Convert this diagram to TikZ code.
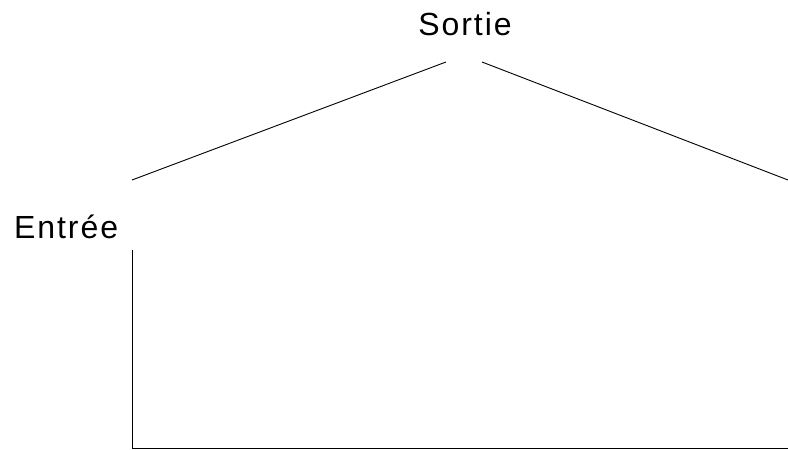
\documentclass[tikz,border=0pt]{standalone}
\usepackage{fontspec}
\setmainfont{Liberation Sans}[LetterSpace=6]
\begin{document}
\begin{tikzpicture}[x=1pt,y=-1pt,
  lbl/.style={inner sep=0pt,font=\fontsize{32}{36}\selectfont},
  ln/.style={line width=0.9pt,black}]
\useasboundingbox (0,0) rectangle (788,450);
\node[lbl,anchor=base] (sortie) at (465,35) {Sortie};
\node[lbl,anchor=base west] (entree) at (14,238) {Entrée};
\coordinate (l1) at (132,180);
\coordinate (l2) at (446,62);
\coordinate (r1) at (482,62);
\coordinate (r2) at (788,180);
\coordinate (v1) at (132,250);
\coordinate (v2) at (132,448);
\coordinate (h2) at (788,448);
\draw[ln] (l1) -- (l2);
\draw[ln] (r1) -- (r2);
\draw[ln] (v1) -- (v2) -- (h2);
\end{tikzpicture}
\end{document}
